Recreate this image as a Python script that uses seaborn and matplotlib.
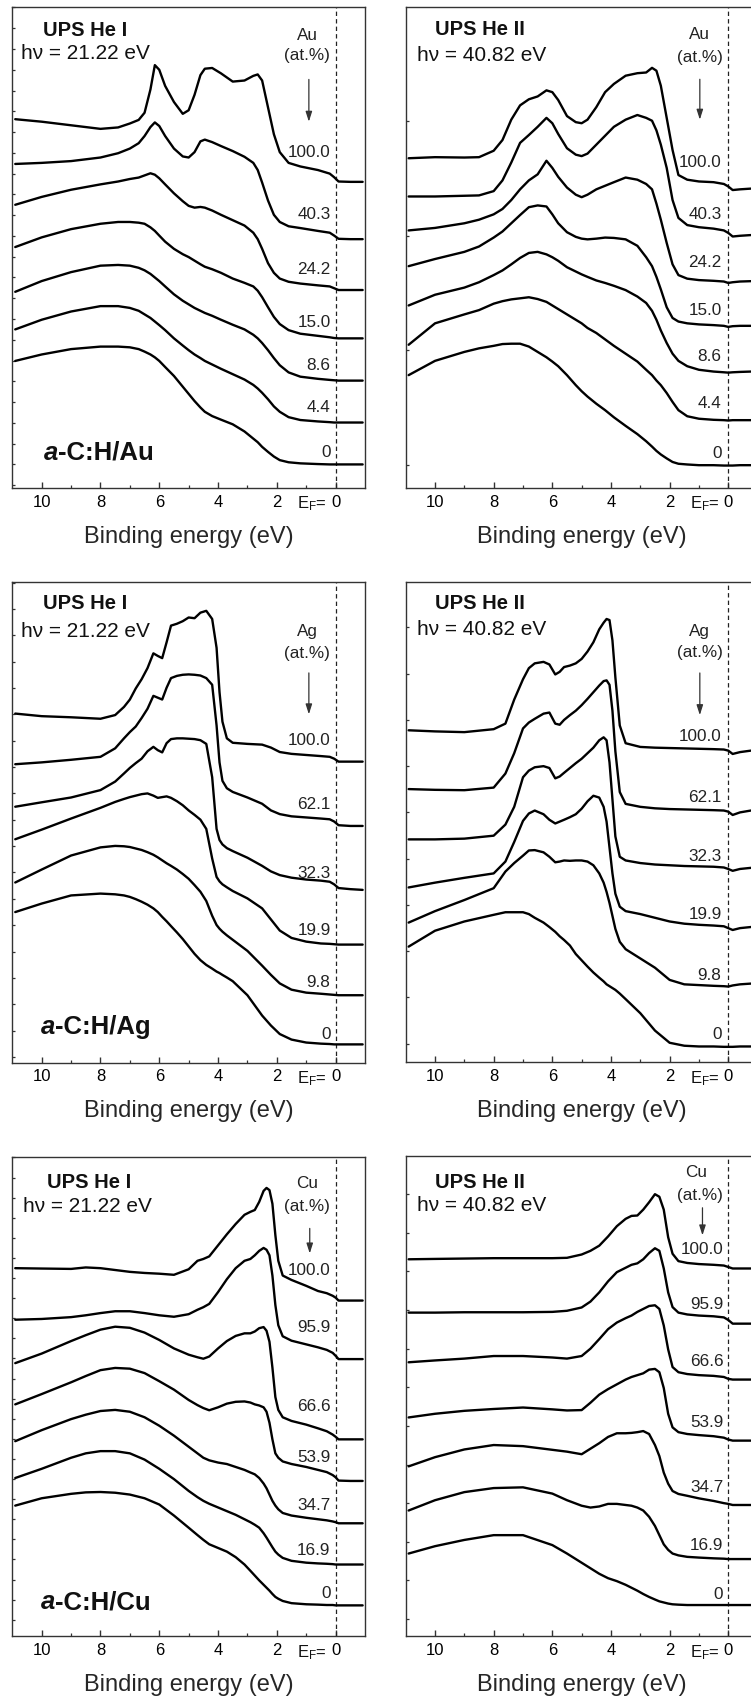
import matplotlib
matplotlib.use("Agg")
import matplotlib.pyplot as plt
from matplotlib.ticker import MultipleLocator
import pandas as pd
import seaborn as sns

# ------------------------------------------------------------------
# Data: binding-energy grids (eV) and UPS intensities (arb. units)
# ------------------------------------------------------------------
AU_CONC = ["100.0", "40.3", "24.2", "15.0", "8.6", "4.4", "0"]
AG_CONC = ["100.0", "62.1", "32.3", "19.9", "9.8", "0"]
CU_CONC = ["100.0", "95.9", "66.6", "53.9", "34.7", "16.9", "0"]

# a-C:H/Au, He I
AU1_E = [10.9, 10.0, 9.0, 8.0, 7.4, 7.0, 6.7, 6.5, 6.3, 6.15, 6.0, 5.8, 5.5, 5.2, 5.0, 4.8, 4.6, 4.45,
         4.2, 3.9, 3.5, 3.1, 2.8, 2.65, 2.5, 2.3, 2.1, 1.9, 1.6, 1.2, 0.6, 0.2, 0.05, -0.1, -0.5, -0.92]
AU1_100 = [1029, 1022, 1012, 1002, 1006, 1017, 1027, 1047, 1112, 1180, 1167, 1122, 1077, 1044, 1054, 1097, 1152, 1170,
           1172, 1157, 1134, 1137, 1150, 1154, 1137, 1062, 987, 937, 907, 897, 887, 877, 867, 855, 854, 854]
AU1_40 = [904, 907, 912, 922, 934, 947, 962, 982, 1007, 1020, 1010, 982, 947, 925, 922, 937, 967, 972,
          965, 954, 940, 924, 907, 887, 852, 802, 762, 742, 730, 725, 717, 712, 704, 695, 694, 694]
AU1_24 = [790, 812, 832, 847, 855, 862, 866, 872, 878, 874, 864, 847, 822, 800, 787, 782, 784, 782,
          774, 762, 747, 732, 712, 694, 667, 627, 600, 584, 575, 570, 565, 562, 557, 552, 552, 552]
AU1_15 = [672, 699, 722, 737, 742, 742, 740, 737, 727, 717, 704, 687, 667, 652, 644, 634, 624, 617,
          610, 600, 584, 572, 562, 550, 532, 504, 477, 457, 440, 430, 424, 420, 418, 417, 417, 417]
AU1_8 = [547, 577, 602, 620, 622, 620, 614, 607, 597, 587, 577, 562, 540, 522, 512, 502, 494, 488,
         480, 469, 455, 442, 427, 417, 404, 384, 362, 342, 322, 310, 304, 301, 300, 299, 299, 299]
AU1_4 = [442, 469, 492, 507, 507, 502, 494, 484, 474, 464, 454, 440, 417, 397, 384, 372, 362, 354,
         344, 332, 317, 302, 287, 277, 265, 247, 227, 212, 197, 189, 185, 183, 182, 182, 182, 182]
AU1_0 = [354, 372, 387, 394, 394, 392, 387, 380, 372, 364, 354, 337, 312, 282, 262, 242, 224, 212,
         200, 190, 177, 157, 137, 127, 114, 100, 87, 77, 71, 68, 66, 65, 65, 65, 65, 65]

# a-C:H/Au, He II
AU2_E = [10.9, 10.0, 9.0, 8.5, 8.0, 7.7, 7.4, 7.1, 6.8, 6.5, 6.2, 6.0, 5.8, 5.5, 5.2, 5.0, 4.8, 4.5, 4.2,
         3.9, 3.5, 3.1, 2.8, 2.6, 2.45, 2.3, 2.1, 1.9, 1.7, 1.4, 1.0, 0.5, 0.15, 0.0, -0.15, -0.4, -0.77]
AU2_100 = [922, 925, 924, 925, 943, 973, 1030, 1070, 1087, 1095, 1112, 1107, 1085, 1040, 1023, 1020, 1030, 1065, 1107,
           1130, 1153, 1160, 1162, 1175, 1167, 1125, 1035, 945, 875, 862, 857, 855, 850, 843, 833, 835, 837]
AU2_40 = [815, 815, 817, 818, 830, 860, 910, 965, 987, 1010, 1035, 1020, 990, 950, 932, 928, 935, 960, 985,
          1010, 1030, 1043, 1035, 1027, 1000, 960, 895, 805, 755, 735, 729, 725, 720, 713, 703, 705, 707]
AU2_24 = [720, 727, 740, 750, 765, 780, 805, 835, 860, 877, 915, 895, 870, 840, 820, 813, 820, 835, 845,
          855, 868, 862, 850, 835, 795, 750, 685, 625, 595, 585, 581, 579, 577, 573, 575, 577, 578]
AU2_15 = [620, 640, 660, 675, 700, 717, 740, 763, 785, 790, 787, 765, 740, 715, 702, 697, 695, 697, 700,
          699, 695, 677, 645, 620, 590, 555, 505, 475, 465, 460, 457, 455, 453, 450, 452, 453, 453]
AU2_8 = [510, 540, 560, 575, 595, 608, 625, 643, 657, 660, 653, 645, 635, 617, 605, 597, 590, 580, 573,
         565, 553, 535, 517, 495, 470, 440, 405, 375, 355, 340, 330, 325, 323, 322, 323, 324, 325]
AU2_4 = [400, 460, 485, 497, 515, 522, 527, 530, 533, 528, 520, 510, 500, 485, 470, 460, 447, 433, 415,
         397, 375, 353, 330, 315, 300, 287, 265, 240, 217, 200, 193, 190, 189, 188, 189, 189, 189]
AU2_0 = [315, 355, 380, 390, 397, 402, 403, 403, 395, 380, 365, 353, 340, 315, 287, 270, 255, 235, 217,
         197, 173, 150, 130, 115, 103, 93, 82, 72, 67, 65, 63, 63, 62, 62, 62, 63, 63]

# a-C:H/Ag, He I
AG1_E = [10.9, 10.0, 9.0, 8.0, 7.5, 7.2, 7.0, 6.8, 6.6, 6.4, 6.2, 6.05, 5.9, 5.75, 5.6, 5.4, 5.2, 5.0, 4.8, 4.6,
         4.4, 4.2, 4.05, 3.95, 3.85, 3.7, 3.5, 3.0, 2.5, 2.2, 1.9, 1.5, 1.0, 0.5, 0.2, 0.05, -0.1, -0.5, -0.92]
AG1_100 = [944, 937, 934, 930, 940, 962, 982, 1012, 1037, 1067, 1107, 1100, 1094, 1137, 1182, 1187, 1194, 1204, 1202, 1217,
           1222, 1200, 1122, 1002, 922, 877, 865, 862, 860, 852, 840, 835, 832, 829, 827, 822, 814, 814, 814]
AG1_62 = [807, 812, 819, 827, 850, 877, 894, 909, 932, 957, 992, 987, 982, 1014, 1040, 1046, 1049, 1050, 1049, 1047,
          1040, 1022, 912, 812, 762, 742, 732, 717, 700, 682, 672, 666, 663, 660, 658, 652, 642, 640, 640]
AG1_32 = [692, 704, 717, 737, 760, 782, 797, 810, 822, 842, 854, 845, 839, 864, 875, 877, 877, 876, 875, 872,
          862, 772, 632, 602, 590, 580, 572, 554, 532, 517, 507, 500, 495, 492, 489, 482, 472, 469, 467]
AG1_19 = [604, 630, 660, 689, 705, 713, 718, 722, 726, 728, 722, 716, 718, 720, 716, 707, 696, 682, 670, 657,
          632, 552, 502, 490, 482, 474, 464, 444, 417, 387, 357, 337, 327, 322, 321, 320, 319, 319, 319]
AG1_9 = [487, 522, 560, 582, 586, 585, 583, 579, 575, 569, 562, 555, 547, 539, 532, 522, 510, 497, 480, 462,
         437, 397, 372, 362, 354, 344, 332, 302, 262, 237, 214, 197, 189, 186, 184, 183, 182, 182, 182]
AG1_0 = [407, 430, 452, 457, 455, 452, 448, 442, 435, 427, 417, 407, 394, 382, 369, 352, 334, 314, 294, 277,
         264, 254, 246, 242, 237, 230, 220, 182, 127, 100, 77, 62, 54, 51, 50, 49, 49, 49, 49]

# a-C:H/Ag, He II
AG2_E = [10.9, 10.0, 9.0, 8.0, 7.6, 7.3, 7.0, 6.8, 6.6, 6.3, 6.1, 5.9, 5.75, 5.6, 5.4, 5.2, 5.0, 4.8, 4.6,
         4.4, 4.25, 4.15, 4.05, 3.95, 3.85, 3.7, 3.5, 3.0, 2.5, 2.0, 1.5, 1.0, 0.5, 0.15, 0.0, -0.15, -0.4, -0.77]
AG2_100 = [897, 894, 892, 900, 915, 980, 1035, 1065, 1078, 1082, 1075, 1048, 1055, 1068, 1072, 1078, 1090, 1110, 1135,
           1170, 1188, 1198, 1195, 1140, 1040, 910, 862, 852, 850, 849, 848, 847, 846, 845, 842, 833, 838, 842]
AG2_62 = [738, 736, 735, 742, 780, 835, 902, 918, 928, 942, 945, 915, 912, 925, 938, 950, 965, 982, 1000,
          1018, 1030, 1032, 1020, 950, 840, 730, 698, 690, 686, 684, 683, 682, 681, 680, 677, 668, 675, 680]
AG2_32 = [602, 602, 604, 612, 642, 690, 770, 788, 797, 800, 795, 767, 772, 782, 795, 808, 820, 835, 850,
          870, 878, 870, 810, 710, 610, 555, 545, 538, 534, 532, 530, 529, 528, 526, 522, 517, 522, 525]
AG2_19 = [472, 485, 498, 510, 542, 595, 652, 672, 680, 670, 655, 645, 650, 655, 662, 670, 685, 705, 720,
          715, 690, 650, 580, 510, 455, 420, 408, 400, 390, 380, 374, 371, 369, 367, 362, 357, 362, 365]
AG2_9 = [377, 408, 438, 470, 515, 538, 558, 572, 573, 567, 555, 540, 542, 545, 544, 545, 545, 542, 532,
         510, 485, 460, 430, 395, 360, 325, 305, 280, 255, 222, 210, 208, 206, 205, 204, 207, 210, 212]
AG2_0 = [312, 355, 380, 398, 405, 405, 405, 400, 390, 377, 365, 352, 340, 330, 315, 292, 275, 258, 242,
         228, 218, 210, 205, 200, 195, 185, 170, 132, 85, 52, 44, 42, 42, 41, 41, 41, 42, 42]

# a-C:H/Cu, He I
CU1_E = [10.9, 10.0, 9.0, 8.5, 8.0, 7.5, 7.0, 6.5, 6.0, 5.5, 5.0, 4.7, 4.5, 4.3, 4.0, 3.7, 3.4, 3.1, 2.9,
         2.75, 2.6, 2.45, 2.35, 2.25, 2.15, 2.05, 1.95, 1.8, 1.5, 1.0, 0.6, 0.3, 0.1, 0.0, -0.1, -0.5, -0.92]
CU1_100 = [1000, 999, 998, 1002, 1000, 995, 990, 987, 985, 982, 997, 1020, 1025, 1032, 1062, 1092, 1120, 1145, 1153,
           1158, 1180, 1210, 1218, 1212, 1175, 1090, 1020, 980, 968, 952, 938, 932, 925, 920, 912, 912, 912]
CU1_95 = [860, 862, 867, 872, 878, 883, 883, 878, 872, 868, 875, 887, 894, 903, 935, 970, 1000, 1020, 1025,
          1035, 1047, 1055, 1050, 1035, 980, 900, 845, 815, 803, 793, 785, 778, 770, 762, 753, 753, 753]
CU1_66 = [742, 768, 802, 818, 833, 841, 838, 825, 805, 782, 765, 758, 754, 760, 782, 802, 816, 823, 823,
          828, 837, 840, 830, 800, 730, 650, 615, 595, 585, 575, 565, 557, 548, 542, 535, 535, 535]
CU1_53 = [630, 658, 690, 707, 723, 729, 727, 715, 693, 670, 642, 628, 620, 614, 622, 632, 637, 638, 635,
          630, 627, 622, 610, 580, 535, 497, 485, 475, 468, 460, 452, 446, 438, 432, 423, 422, 422]
CU1_34 = [530, 560, 590, 602, 612, 615, 610, 595, 572, 545, 515, 497, 485, 478, 472, 468, 460, 452, 445,
          440, 430, 415, 402, 385, 368, 355, 345, 335, 328, 322, 318, 315, 312, 310, 307, 307, 307]
CU1_16 = [430, 455, 485, 497, 503, 503, 497, 480, 455, 427, 395, 378, 368, 360, 350, 340, 330, 318, 310,
          303, 295, 280, 268, 255, 242, 230, 222, 213, 205, 200, 198, 197, 196, 195, 195, 195, 195]
CU1_0 = [355, 375, 387, 391, 392, 390, 385, 375, 358, 328, 295, 275, 262, 250, 240, 230, 215, 195, 178,
         165, 152, 140, 132, 124, 115, 107, 102, 96, 90, 87, 86, 85, 85, 84, 84, 84, 84]

# a-C:H/Cu, He II
CU2_E = [10.9, 10.0, 9.0, 8.0, 7.0, 6.0, 5.5, 5.0, 4.7, 4.4, 4.1, 3.8, 3.5, 3.3, 3.1, 2.9, 2.7, 2.5,
         2.35, 2.2, 2.05, 1.9, 1.7, 1.4, 1.0, 0.5, 0.15, 0.0, -0.15, -0.4, -0.77]
CU2_100 = [1025, 1026, 1027, 1028, 1028, 1028, 1029, 1038, 1048, 1062, 1087, 1115, 1135, 1143, 1144, 1160, 1180, 1202,
           1195, 1160, 1085, 1040, 1020, 1015, 1012, 1010, 1008, 1004, 1000, 1000, 1000]
CU2_95 = [880, 880, 881, 881, 881, 882, 885, 894, 910, 935, 965, 990, 1002, 1010, 1014, 1025, 1042, 1055,
          1048, 1000, 935, 895, 880, 875, 872, 870, 867, 860, 850, 850, 850]
CU2_66 = [745, 750, 755, 762, 762, 758, 755, 762, 782, 808, 835, 853, 865, 872, 882, 890, 898, 900,
          890, 845, 780, 732, 718, 713, 710, 708, 705, 700, 698, 698, 698]
CU2_53 = [595, 605, 613, 618, 622, 617, 614, 615, 635, 657, 672, 685, 698, 705, 710, 715, 725, 727,
          718, 675, 605, 568, 555, 550, 547, 544, 540, 535, 532, 532, 532]
CU2_34 = [462, 487, 508, 520, 517, 507, 502, 495, 510, 525, 542, 552, 552, 553, 555, 558, 550, 520,
          490, 445, 415, 395, 387, 382, 375, 368, 362, 360, 357, 357, 357]
CU2_16 = [342, 370, 392, 403, 405, 388, 370, 355, 350, 353, 360, 360, 357, 355, 350, 342, 325, 300,
          275, 250, 235, 225, 220, 216, 214, 212, 211, 210, 210, 210, 210]
CU2_0 = [225, 245, 262, 275, 275, 248, 225, 200, 185, 170, 158, 150, 140, 132, 124, 115, 107, 100,
         95, 92, 89, 87, 86, 85, 85, 85, 85, 85, 85, 85, 85]

# ------------------------------------------------------------------
# Layout (panel rectangles in px; annotation positions in data units)
# ------------------------------------------------------------------
PANELS = [
    dict(rect=(12.3, 7.1, 352.7, 480.6), ymax=1342, tick=(58.0, 7), E=AU1_E,
         curves=[AU1_100, AU1_40, AU1_24, AU1_15, AU1_8, AU1_4, AU1_0], conc=AU_CONC,
         lab_x=0.17, lab_y=[937, 762, 610, 462, 340, 225, 97],
         metal="Au", metal_xy=(0.97, 1262), atp_xy=(0.97, 1207), arrow=(0.91, 1140, 1022),
         ups="UPS He I", ups_xy=(9.94, 1277), hv="h\u03bd = 21.22 eV", hv_xy=(10.72, 1212),
         sample_xy=(9.94, 97)),
    dict(rect=(405.7, 7.1, 351.9, 480.6), ymax=1345, tick=(321.0, 63), E=AU2_E,
         curves=[AU2_100, AU2_40, AU2_24, AU2_15, AU2_8, AU2_4, AU2_0], conc=AU_CONC,
         lab_x=0.23, lab_y=[910, 765, 630, 495, 367, 235, 97],
         metal="Au", metal_xy=(0.97, 1268), atp_xy=(0.97, 1205), arrow=(0.97, 1143, 1030),
         ups="UPS He II", ups_xy=(10.01, 1283), hv="h\u03bd = 40.82 eV", hv_xy=(10.6, 1210),
         sample_xy=None),
    dict(rect=(12.3, 582.0, 352.7, 480.5), ymax=1300, tick=(71.3, 15), E=AG1_E,
         curves=[AG1_100, AG1_62, AG1_32, AG1_19, AG1_9, AG1_0], conc=AG_CONC,
         lab_x=0.17, lab_y=[872, 697, 512, 357, 217, 77],
         metal="Ag", metal_xy=(0.97, 1167), atp_xy=(0.97, 1107), arrow=(0.91, 1054, 942),
         ups="UPS He I", ups_xy=(9.94, 1242), hv="h\u03bd = 21.22 eV", hv_xy=(10.72, 1167),
         sample_xy=(10.03, 97)),
    dict(rect=(405.7, 582.0, 351.9, 480.0), ymax=1298, tick=(125.0, 50), E=AG2_E,
         curves=[AG2_100, AG2_62, AG2_32, AG2_19, AG2_9, AG2_0], conc=AG_CONC,
         lab_x=0.23, lab_y=[880, 715, 555, 400, 235, 75],
         metal="Ag", metal_xy=(1.0, 1165), atp_xy=(0.97, 1108), arrow=(0.97, 1052, 938),
         ups="UPS He II", ups_xy=(10.01, 1240), hv="h\u03bd = 40.82 eV", hv_xy=(10.6, 1170),
         sample_xy=None),
    dict(rect=(12.3, 1157.0, 352.7, 479.3), ymax=1302, tick=(54.6, 45), E=CU1_E,
         curves=[CU1_100, CU1_95, CU1_66, CU1_53, CU1_34, CU1_16, CU1_0], conc=CU_CONC,
         lab_x=0.17, lab_y=[993, 840, 625, 485, 355, 233, 115],
         metal="Cu", metal_xy=(0.97, 1230), atp_xy=(0.97, 1168), arrow=(0.88, 1108, 1040),
         ups="UPS He I", ups_xy=(9.83, 1232), hv="h\u03bd = 21.22 eV", hv_xy=(10.65, 1168),
         sample_xy=(10.03, 92)),
    dict(rect=(405.7, 1156.3, 351.9, 480.0), ymax=1305, tick=(105.0, 47), E=CU2_E,
         curves=[CU2_100, CU2_95, CU2_66, CU2_53, CU2_34, CU2_16, CU2_0], conc=CU_CONC,
         lab_x=0.17, lab_y=[1052, 902, 747, 582, 405, 248, 115],
         metal="Cu", metal_xy=(1.08, 1260), atp_xy=(0.97, 1198), arrow=(0.88, 1165, 1090),
         ups="UPS He II", ups_xy=(10.01, 1235), hv="h\u03bd = 40.82 eV", hv_xy=(10.6, 1170),
         sample_xy=None),
]

# ------------------------------------------------------------------
# Style
# ------------------------------------------------------------------
sns.set_theme(style="ticks")
FONT = ["Liberation Sans", "DejaVu Sans"]
plt.rcParams.update({
    "font.family": FONT,
    "mathtext.fontset": "custom",
    "mathtext.rm": "Liberation Sans",
    "mathtext.it": "Liberation Sans:italic",
    "mathtext.bf": "Liberation Sans:bold",
    "axes.edgecolor": "#333333",
    "axes.linewidth": 1.0,
    "xtick.direction": "in",
    "ytick.direction": "in",
    "xtick.color": "#333333",
    "ytick.color": "#333333",
    "xtick.labelcolor": "black",
    "text.color": "#111111",
})

W, H = 751.0, 1702.0
fig = plt.figure(figsize=(W / 100, H / 100), dpi=100)
fig.patch.set_facecolor("white")

for p in PANELS:
    lx, ty, wd, ht = p["rect"]
    ax = fig.add_axes([lx / W, 1 - (ty + ht) / H, wd / W, ht / H])
    ax.set_facecolor("white")

    rows = []
    for name, vals in zip(p["conc"], p["curves"]):
        for e, v in zip(p["E"], vals):
            rows.append((name, e, v))
    df = pd.DataFrame(rows, columns=["conc", "E", "I"])
    sns.lineplot(data=df, x="E", y="I", units="conc", estimator=None, sort=False,
                 color="black", linewidth=1.7, ax=ax, legend=False)

    ax.set_xlim(11.0, -1.0)
    ax.set_ylim(0, p["ymax"])
    ax.axvline(0, color="#222222", lw=0.9, dashes=(3.5, 2.5), zorder=1)

    # axes ticks
    ax.set_xticks([10, 8, 6, 4, 2, 0])
    ax.set_xticklabels(["10", "8", "6", "4", "2", "0"])
    ax.set_xticks([9, 7, 5, 3, 1], minor=True)
    ax.tick_params(axis="x", which="major", length=4.2, width=1.0, labelsize=12, pad=5,
                   top=False, bottom=True)
    ax.tick_params(axis="x", which="minor", length=2.2, width=0.9, top=False, bottom=True)
    base, off = p["tick"]
    ax.yaxis.set_major_locator(MultipleLocator(base, offset=off))
    ax.tick_params(axis="y", which="major", length=2.0, width=0.9, left=True, right=False,
                   labelleft=False)
    ax.tick_params(axis="y", which="minor", left=False, right=False)
    ax.set_ylabel("")
    ax.set_xlabel("Binding energy (eV)", fontsize=17, labelpad=11.5)
    for s in ax.spines.values():
        s.set_visible(True)

    ax.annotate("E$_\\mathrm{F}$=", xy=(0.30, 0), xycoords=("data", "axes fraction"),
                xytext=(0, -5), textcoords="offset points", ha="right", va="top",
                fontsize=12)

    # concentration labels
    for name, y in zip(p["conc"], p["lab_y"]):
        ax.text(p["lab_x"], y, name, ha="right", va="center", fontsize=12.3, color="#222222")

    ax.text(p["metal_xy"][0], p["metal_xy"][1], p["metal"], ha="center", va="center",
            fontsize=12.3, color="#222222")
    ax.text(p["atp_xy"][0], p["atp_xy"][1], "(at.%)", ha="center", va="center",
            fontsize=12.3, color="#222222")
    axx, y0, y1 = p["arrow"]
    ax.annotate("", xy=(axx, y1), xytext=(axx, y0),
                arrowprops=dict(arrowstyle="-|>,head_length=0.5,head_width=0.16",
                                color="#333333", lw=0.9, shrinkA=0, shrinkB=0))

    ax.text(p["ups_xy"][0], p["ups_xy"][1], p["ups"], ha="left", va="center",
            fontsize=14.5, fontweight="bold", color="#111111")
    ax.text(p["hv_xy"][0], p["hv_xy"][1], p["hv"], ha="left", va="center",
            fontsize=15, color="#111111")

    if p["sample_xy"] is not None:
        t = ax.text(p["sample_xy"][0], p["sample_xy"][1], "a", ha="left", va="center",
                    fontsize=18.5, fontweight="bold", fontstyle="italic", color="#111111")
        ax.annotate("-C:H/" + p["metal"], xy=(1, 0), xycoords=t, ha="left", va="bottom",
                    fontsize=18.5, fontweight="bold", color="#111111")

fig.savefig("out.png", dpi=100, facecolor="white")
